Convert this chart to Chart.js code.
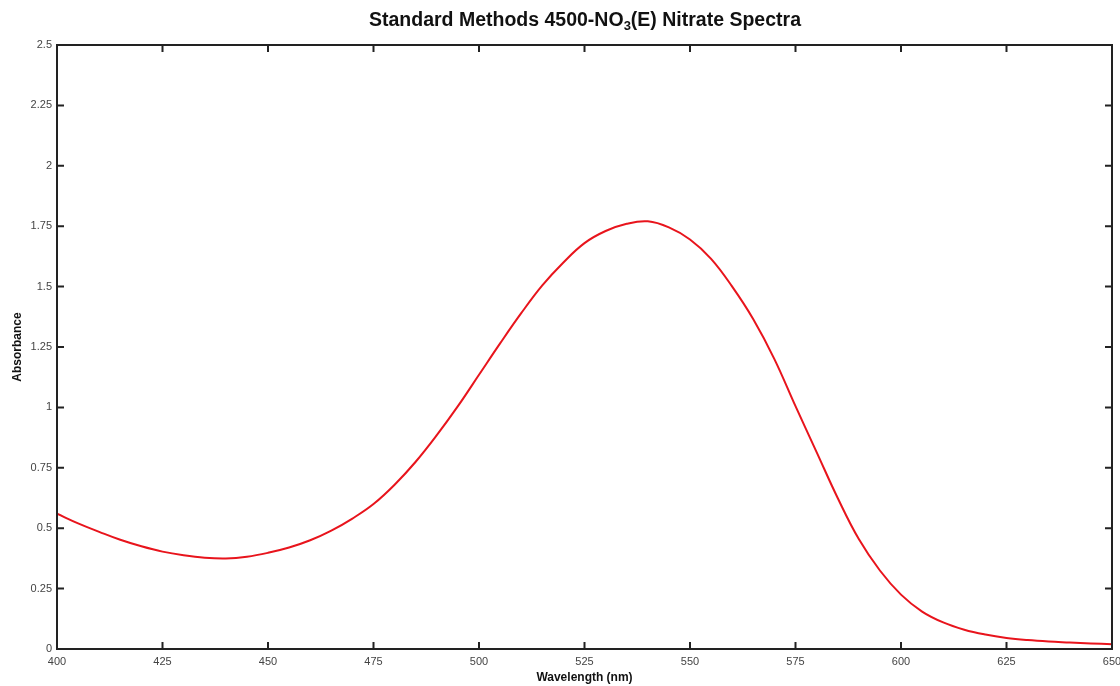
<!DOCTYPE html>
<html lang="en">

<head>
  <meta charset="UTF-8">
  <title>Nitrate Spectra</title>
  <script src="https://cdn.jsdelivr.net/npm/chart.js"></script>
  <style>
    html, body { margin: 0; padding: 0; background: #fff; }
    .wrap { position: relative; width: 1120px; height: 686px; }
    .chart-title {
      position: absolute; left: 58px; width: 1054px; top: 8px;
      text-align: center; font: bold 19.5px "Liberation Sans", Arial, sans-serif; color: #111;
    }
    .chart-title sub { font-size: 13px; vertical-align: -4px; line-height: 0; }
  </style>
</head>

<body>
  <div class="wrap">
    <div class="chart-title">Standard Methods 4500-NO<sub>3</sub>(E) Nitrate Spectra</div>
    <canvas id="spectra-chart" width="1120" height="686"></canvas>
  </div>

  <script>
    // wavelength (nm) and absorbance
    const wavelengths = [400, 405, 410, 415, 420, 425, 430, 435, 440, 445, 450, 455, 460, 465, 470,
      475, 480, 485, 490, 495, 500, 505, 510, 515, 520, 525, 530, 535, 540, 545, 550, 555, 560,
      565, 570, 575, 580, 585, 590, 595, 600, 605, 610, 615, 620, 625, 630, 635, 640, 645, 650];
    const absorbance = [0.56, 0.52, 0.485, 0.452, 0.425, 0.403, 0.388, 0.378, 0.375, 0.382, 0.398,
      0.42, 0.45, 0.49, 0.54, 0.60, 0.68, 0.775, 0.885, 1.005, 1.135, 1.265, 1.39, 1.505, 1.60,
      1.68, 1.73, 1.76, 1.77, 1.745, 1.695, 1.615, 1.50, 1.365, 1.20, 1.005, 0.815, 0.625, 0.455,
      0.325, 0.225, 0.155, 0.11, 0.08, 0.06, 0.046, 0.037, 0.031, 0.027, 0.023, 0.02];
    const xTicks = [400, 425, 450, 475, 500, 525, 550, 575, 600, 625, 650];
    const yTicks = [0, 0.25, 0.5, 0.75, 1, 1.25, 1.5, 1.75, 2, 2.25, 2.5];

    // frame round the plot plus tick marks pointing inwards on all four sides
    const frameTicks = {
      id: 'frameTicks',
      afterDraw(chart) {
        const ctx = chart.ctx;
        const a = chart.chartArea;
        const x = chart.scales.x, y = chart.scales.y;
        const len = 7;
        ctx.save();
        ctx.strokeStyle = '#222';
        ctx.lineWidth = 2;
        ctx.strokeRect(a.left, a.top, a.right - a.left, a.bottom - a.top);
        ctx.beginPath();
        xTicks.forEach(v => {
          const px = x.getPixelForValue(v);
          ctx.moveTo(px, a.bottom); ctx.lineTo(px, a.bottom - len);
          ctx.moveTo(px, a.top); ctx.lineTo(px, a.top + len);
        });
        yTicks.forEach(v => {
          const py = y.getPixelForValue(v);
          ctx.moveTo(a.left, py); ctx.lineTo(a.left + len, py);
          ctx.moveTo(a.right, py); ctx.lineTo(a.right - len, py);
        });
        ctx.stroke();
        ctx.restore();
      }
    };

    const labelFont = { family: '"Liberation Sans", Arial, sans-serif', size: 11 };
    const titleFont = { family: '"Liberation Sans", Arial, sans-serif', size: 12, weight: 'bold' };

    new Chart(document.getElementById('spectra-chart'), {
      type: 'line',
      data: {
        datasets: [{
          data: wavelengths.map((w, i) => ({ x: w, y: absorbance[i] })),
          borderColor: 'rgb(232, 20, 28)',
          borderWidth: 2,
          pointRadius: 0,
          tension: 0.4,
          fill: false
        }]
      },
      options: {
        responsive: false,
        animation: false,
        layout: { padding: { top: 45, right: 0, left: 0, bottom: 0 } },
        plugins: {
          legend: { display: false },
          tooltip: { enabled: false }
        },
        scales: {
          x: {
            type: 'linear',
            min: 400,
            max: 650,
            afterBuildTicks: s => { s.ticks = xTicks.map(v => ({ value: v })); },
            afterFit: s => { s.height = 37; s.paddingRight = 8; },
            grid: { display: false, drawTicks: false },
            border: { display: false },
            ticks: { font: labelFont, color: '#444', padding: 6, maxRotation: 0 },
            title: { display: true, text: 'Wavelength (nm)', font: titleFont, color: '#111', padding: { top: 0, bottom: 1 } }
          },
          y: {
            min: 0,
            max: 2.5,
            afterBuildTicks: s => { s.ticks = yTicks.map(v => ({ value: v })); },
            afterFit: s => { s.width = 57; },
            grid: { display: false, drawTicks: false },
            border: { display: false },
            ticks: { font: labelFont, color: '#444', padding: 5, callback: v => String(v) },
            title: { display: true, text: 'Absorbance', font: titleFont, color: '#111', padding: { top: 10, bottom: 0 } }
          }
        }
      },
      plugins: [frameTicks]
    });
  </script>
</body>

</html>
